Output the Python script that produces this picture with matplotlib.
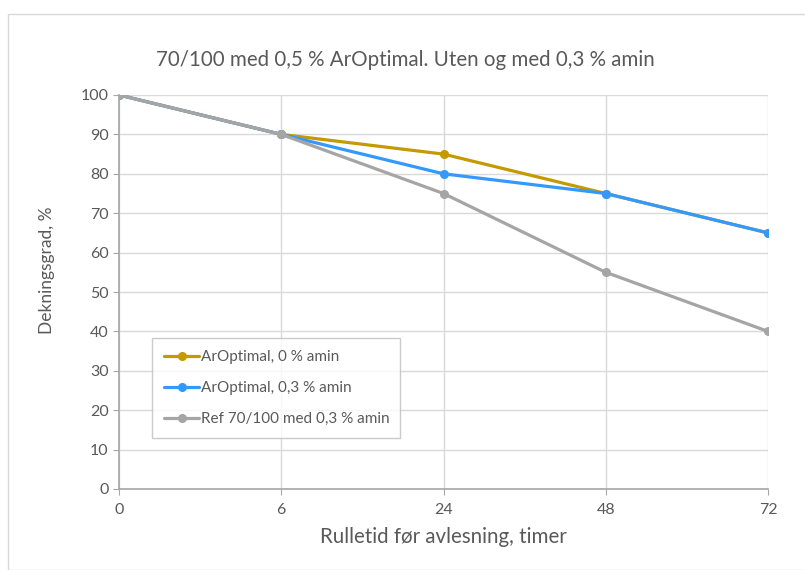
import matplotlib
matplotlib.use("Agg")
import matplotlib.pyplot as plt
from matplotlib.patches import Rectangle

plt.rcParams['font.family'] = ['Lato', 'DejaVu Sans']

categories = ["0", "6", "24", "48", "72"]
aroptimal_0 = [100, 90, 85, 75, 65]
aroptimal_03 = [100, 90, 80, 75, 65]
ref_03 = [100, 90, 75, 55, 40]

series_names = ["ArOptimal, 0 % amin", "ArOptimal, 0,3 % amin", "Ref 70/100 med 0,3 % amin"]
series_colors = ["#C49A00", "#3399FF", "#A5A5A5"]

title = "70/100 med 0,5 % ArOptimal. Uten og med 0,3 % amin"
xlabel = "Rulletid før avlesning, timer"
ylabel = "Dekningsgrad, %"
yticks = list(range(0, 101, 10))

text_color = "#595959"
axis_color = "#A6A6A6"

fig = plt.figure(figsize=(8.05, 5.70), dpi=100)
# chart frame
fig.patches.append(Rectangle((8 / 805, 0), 1, 1 - 14 / 570, transform=fig.transFigure,
                             fill=False, edgecolor="#D9D9D9", linewidth=1.0))

ax = fig.add_axes([119 / 805, 1 - 489 / 570, (768 - 119) / 805, (489 - 95) / 570])
x = list(range(len(categories)))

for vals, name, col in zip([aroptimal_0, aroptimal_03, ref_03], series_names, series_colors):
    ax.plot(x, vals, color=col, linewidth=2.3, marker="o", markersize=5.5,
            label=name, solid_capstyle="round", zorder=3)

ax.set_xlim(0, len(categories) - 1)
ax.set_ylim(0, 100)
ax.set_xticks(x)
ax.set_xticklabels(categories)
ax.set_yticks(yticks)
ax.tick_params(axis="both", colors=axis_color, labelcolor=text_color, labelsize=11.5, length=4)
ax.tick_params(axis="x", pad=6)
ax.grid(True, color="#D9D9D9", linewidth=1.0, zorder=0)
for s in ["top", "right"]:
    ax.spines[s].set_visible(False)
for s in ["bottom", "left"]:
    ax.spines[s].set_color(axis_color)
    ax.spines[s].set_linewidth(1.2)

ax.set_xlabel(xlabel, fontsize=14.8, color=text_color, labelpad=7)
ax.set_ylabel(ylabel, fontsize=12.5, color=text_color)
ax.yaxis.set_label_coords(-0.098, 0.556)
fig.text(0.503, 1 - 60 / 570, title, ha="center", va="center",
         fontsize=14.8, color=text_color)

leg = ax.legend(loc="lower left", bbox_to_anchor=(0.051, 0.129, 0.382, 0.241), mode="expand",
                borderaxespad=0, fontsize=11, frameon=True, fancybox=False, handlelength=2.3,
                handletextpad=0.1, labelspacing=1.1, borderpad=0.8, labelcolor=text_color)
leg.get_frame().set_edgecolor("#BFBFBF")
leg.get_frame().set_linewidth(1.0)

fig.savefig("out.png", dpi=100)
